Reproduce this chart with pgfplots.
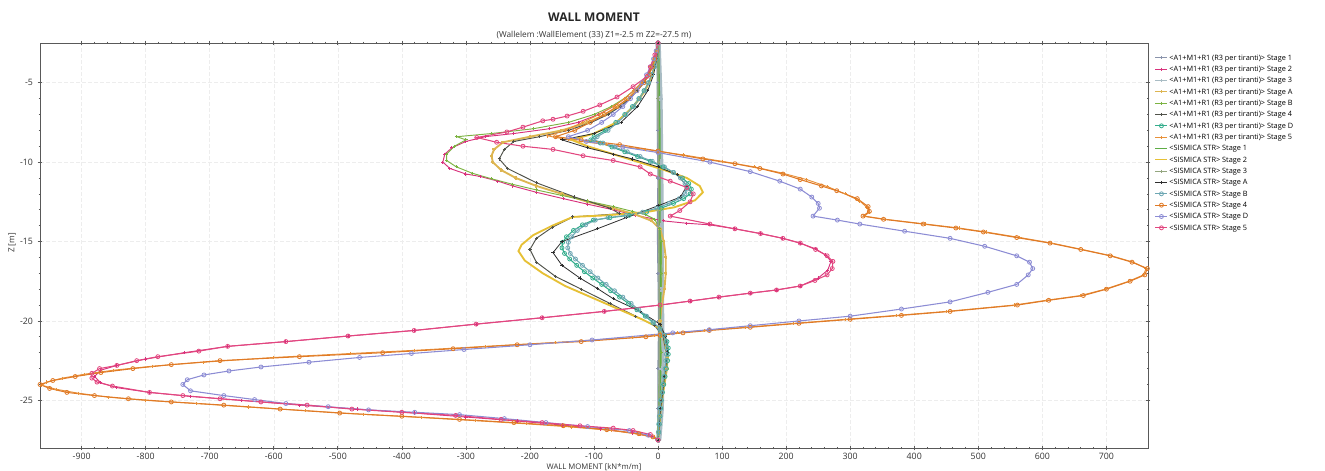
\documentclass[border=0pt]{standalone}
\usepackage{fontspec}
\setmainfont{Open Sans}
\usepackage{pgfplots}
\pgfplotsset{compat=1.18}

\definecolor{cA}{HTML}{8A93AB}
\definecolor{cB}{HTML}{D8327C}
\definecolor{cC}{HTML}{A9BCC4}
\definecolor{cD}{HTML}{DDB551}
\definecolor{cE}{HTML}{7CB342}
\definecolor{cF}{HTML}{50524A}
\definecolor{cG}{HTML}{33AD8C}
\definecolor{cH}{HTML}{E8913A}
\definecolor{cI}{HTML}{5EAD46}
\definecolor{cJ}{HTML}{E6C035}
\definecolor{cK}{HTML}{94A67F}
\definecolor{cL}{HTML}{2E2E2E}
\definecolor{cM}{HTML}{6EA7B3}
\definecolor{cN}{HTML}{E07A26}
\definecolor{cO}{HTML}{8C8CD4}
\definecolor{cP}{HTML}{E2467F}

\pgfplotsset{
  pl/.style={line width=0.7pt, mark=+, mark size=1.2pt, mark options={solid}},
  ci/.style={line width=0.8pt, mark=o, mark size=1.5pt, mark options={solid, fill=white, line width=0.6pt}},
  nz/.style={line width=1.4pt, mark=none},
}

\begin{document}
\begin{tikzpicture}
\useasboundingbox (0,0) rectangle (993.75pt,353.25pt);
\begin{axis}[
  at={(30pt,17.25pt)}, anchor=south west,
  scale only axis, width=831pt, height=303.75pt,
  xmin=-965, xmax=765, ymin=-28, ymax=-2.5,
  xtick={-900,-800,...,700}, ytick={-25,-20,...,-5},
  minor x tick num=4, minor y tick num=4,
  tick align=center, major tick length=3.5pt, minor tick length=2pt,
  axis line style={draw=black!65, line width=0.6pt},
  every tick/.style={black!65, line width=0.5pt},
  tick label style={font=\fontsize{6.6}{7}\selectfont, text=black!80},
  xticklabel style={yshift=1.2pt},
  /pgf/number format/assume math mode=true,
  /pgf/number format/.cd, 1000 sep={}, /pgfplots/.cd,
  grid=major, major grid style={black!7, dash pattern=on 3pt off 1.5pt, line width=0.4pt},
  legend style={at={(rel axis cs:1.006,0.978)}, anchor=north west, draw=none, fill=none,
    font=\fontsize{5.5}{6}\selectfont, row sep=0pt, inner sep=0pt,
    nodes={inner sep=1pt, text height=5.1pt, text depth=1.4pt}},
  legend cell align=left,
  legend image code/.code={\draw[line width=0.8pt, mark repeat=2, mark phase=2] plot coordinates {(0pt,0pt) (4.5pt,0pt) (9pt,0pt)};},
]
% ---- <A1+M1+R1 (R3 per tiranti)> ----
\addplot[pl, cA, line width=1pt] coordinates {(0,-2.5) (-1,-5) (-1,-8) (0,-11) (-1,-14) (0,-17) (1,-20) (0,-23) (0,-25.5) (0,-27.5)};
\addlegendentry{<A1+M1+R1 (R3 per tiranti)> Stage 1}
\addplot[pl, cB] coordinates {(0,-2.5) (-2,-3) (-5,-3.5) (-10,-4) (-17,-4.5) (-26,-5) (-38,-5.5) (-52,-6) (-70,-6.5) (-93,-7) (-125,-7.5) (-170,-7.9) (-225,-8.2) (-270,-8.4) (-300,-8.7) (-322,-9.1) (-333,-9.5) (-336,-10) (-325,-10.4) (-300,-10.75) (-278,-10.9) (-250,-11.2) (-227,-11.5) (-190,-11.9) (-148,-12.3) (-110,-12.65) (-70,-13.0) (-35,-13.35) (8,-13.7) (45,-13.85) (81,-13.95) (120,-14.2) (160,-14.5) (195,-14.8) (222,-15.1) (245,-15.45) (262,-15.85) (270,-16.25) (265,-16.8) (250,-17.3) (222,-17.8) (185,-18.05) (144,-18.25) (95,-18.5) (50,-18.75) (3,-19.0) (-84,-19.4) (-181,-19.8) (-284,-20.2) (-381,-20.6) (-484,-20.95) (-581,-21.3) (-672,-21.6) (-740,-22.0) (-800,-22.4) (-845,-22.8) (-870,-23.1) (-880,-23.5) (-870,-23.9) (-845,-24.2) (-794,-24.5) (-730,-24.75) (-650,-25.0) (-560,-25.3) (-470,-25.55) (-380,-25.8) (-300,-26.05) (-220,-26.3) (-150,-26.55) (-90,-26.8) (-40,-27.05) (-10,-27.3) (0,-27.5)};
\addlegendentry{<A1+M1+R1 (R3 per tiranti)> Stage 2}
\addplot[pl, cC, line width=4pt, mark size=0.8pt] coordinates {(0,-2.5) (3,-6) (4,-10) (5,-14) (5,-18) (6,-21) (6,-23) (5,-25.5) (1,-27.5)};
\addlegendentry{<A1+M1+R1 (R3 per tiranti)> Stage 3}
\addplot[pl, cD, line width=1.4pt] coordinates {(0,-2.5) (-2,-3) (-5,-3.5) (-10,-4) (-16,-4.5) (-24,-5) (-34,-5.5) (-46,-6) (-62,-6.5) (-82,-7) (-110,-7.5) (-150,-8) (-200,-8.4) (-242,-8.75) (-256,-9.2) (-260,-9.6) (-258,-10) (-245,-10.5) (-222,-11.0) (-190,-11.5) (-150,-12.0) (-110,-12.5) (-70,-12.9) (-35,-13.3) (-10,-13.7) (3,-14.2) (9,-15) (12,-16) (12,-17) (10,-18) (6,-19) (3,-20) (7,-21) (12,-21.7) (15,-22.3) (14,-23) (10,-24) (6,-25) (3,-26) (0,-27.5)};
\addlegendentry{<A1+M1+R1 (R3 per tiranti)> Stage A}
\addplot[pl, cE] coordinates {(0,-2.5) (-2,-3) (-5,-3.5) (-10,-4) (-17,-4.5) (-26,-5) (-38,-5.5) (-53,-6) (-73,-6.5) (-100,-7) (-140,-7.5) (-195,-7.9) (-260,-8.2) (-314,-8.4) (-300,-8.6) (-318,-9.0) (-330,-9.5) (-330,-9.9) (-315,-10.3) (-290,-10.7) (-260,-11.05) (-227,-11.4) (-190,-11.75) (-150,-12.1) (-110,-12.45) (-70,-12.8) (-40,-13.1) (-20,-13.3) (-5,-13.6) (2,-14.2) (5,-15) (6,-17) (4,-19) (3,-21) (5,-22) (4,-24) (2,-26) (0,-27.5)};
\addlegendentry{<A1+M1+R1 (R3 per tiranti)> Stage B}
\addplot[pl, cF] coordinates {(0,-2.5) (-2,-3) (-5,-3.5) (-9,-4) (-15,-4.5) (-22,-5) (-32,-5.5) (-44,-6) (-59,-6.5) (-78,-7) (-104,-7.5) (-140,-8) (-185,-8.4) (-225,-8.7) (-240,-9.2) (-248,-9.8) (-235,-10.4) (-190,-11.3) (-130,-12.2) (-75,-12.9) (-60,-13.25) (-133,-13.45) (-165,-14.1) (-190,-14.8) (-200,-15.5) (-190,-16.3) (-160,-17.2) (-120,-18) (-75,-18.9) (-35,-19.7) (-5,-20.3) (8,-21) (13,-22) (10,-23.5) (5,-25) (0,-27.5)};
\addlegendentry{<A1+M1+R1 (R3 per tiranti)> Stage 4}
\addplot[ci, cG] coordinates {(0,-2.5) (-1,-3) (-3,-3.5) (-6,-4) (-10,-4.5) (-15,-5) (-22,-5.5) (-30,-6) (-40,-6.5) (-52,-7) (-66,-7.5) (-82,-8) (-100,-8.4) (-105,-8.6) (-90,-8.8) (-72,-9.05) (-52,-9.35) (-32,-9.65) (-12,-9.95) (8,-10.3) (24,-10.65) (38,-11.0) (48,-11.35) (52,-11.7) (50,-12.0) (40,-12.3) (24,-12.6) (5,-12.9) (-18,-13.15) (-45,-13.35) (-75,-13.5) (-101,-13.65) (-118,-13.95) (-132,-14.3) (-143,-14.7) (-149,-15.05) (-150,-15.4) (-146,-15.75) (-138,-16.1) (-127,-16.5) (-115,-16.9) (-102,-17.3) (-88,-17.7) (-74,-18.1) (-60,-18.5) (-46,-18.9) (-33,-19.3) (-20,-19.7) (-8,-20.1) (3,-20.5) (10,-20.9) (14,-21.3) (16,-21.7) (16,-22.1) (15,-22.5) (13,-23) (11,-23.5) (9,-24) (7,-24.5) (5,-25) (4,-25.5) (3,-26) (2,-26.5) (1,-27) (0,-27.5)};
\addlegendentry{<A1+M1+R1 (R3 per tiranti)> Stage D}
\addplot[pl, cH] coordinates {(0,-2.5) (-2,-3) (-6,-3.5) (-11,-4) (-17,-4.5) (-26,-5) (-38,-5.5) (-52,-6) (-70,-6.5) (-92,-7) (-118,-7.5) (-145,-8) (-172,-8.35) (-140,-8.6) (-80,-8.9) (-20,-9.2) (40,-9.55) (100,-9.95) (150,-10.3) (195,-10.7) (232,-11.1) (265,-11.55) (292,-12.0) (315,-12.45) (326,-12.85) (330,-13.15) (322,-13.4) (355,-13.6) (418,-13.9) (470,-14.15) (512,-14.4) (565,-14.75) (615,-15.1) (662,-15.5) (708,-15.9) (742,-16.3) (762,-16.7) (758,-17.1) (735,-17.5) (698,-18) (660,-18.4) (606,-18.7) (556,-19.0) (450,-19.4) (372,-19.65) (292,-19.9) (212,-20.15) (136,-20.4) (72,-20.6) (30,-20.75) (-5,-20.9) (-40,-21.05) (-160,-21.35) (-270,-21.6) (-380,-21.85) (-480,-22.05) (-600,-22.3) (-710,-22.6) (-790,-22.85) (-850,-23.1) (-895,-23.35) (-930,-23.6) (-955,-23.85) (-962,-24.05) (-940,-24.3) (-905,-24.55) (-858,-24.8) (-800,-25.0) (-720,-25.2) (-640,-25.42) (-550,-25.65) (-460,-25.88) (-370,-26.08) (-285,-26.28) (-205,-26.48) (-135,-26.68) (-72,-26.9) (-28,-27.15) (-6,-27.35) (0,-27.5)};
\addlegendentry{<A1+M1+R1 (R3 per tiranti)> Stage 5}
% ---- <SISMICA STR> ----
\addplot[nz, cI, line width=1.8pt] coordinates {(0,-2.5) (1,-5) (2,-8) (2,-11) (2,-14) (3,-17) (3,-20) (3,-23) (2,-25.5) (0,-27.5)};
\addlegendentry{<SISMICA STR> Stage 1}
\addplot[nz, cJ] coordinates {(0,-2.5) (-3,-3.5) (-9,-4.5) (-20,-5.5) (-38,-6.5) (-65,-7.5) (-100,-8.2) (-135,-8.6) (-110,-9.0) (-70,-9.5) (-30,-10.0) (10,-10.5) (45,-11.0) (65,-11.5) (70,-11.9) (58,-12.4) (25,-12.85) (-20,-13.15) (-80,-13.35) (-133,-13.45) (-165,-14.0) (-195,-14.6) (-213,-15.2) (-218,-15.6) (-208,-16.2) (-180,-17.0) (-145,-17.8) (-105,-18.5) (-65,-19.2) (-25,-19.9) (0,-20.4) (10,-21) (14,-21.8) (13,-22.6) (10,-23.5) (6,-24.5) (3,-25.8) (0,-27.5)};
\addlegendentry{<SISMICA STR> Stage 2}
\addplot[pl, cK, line width=1pt] coordinates {(0,-2.5) (0,-6) (1,-10) (1,-14) (2,-18) (2,-21) (2,-24) (1,-26) (0,-27.5)};
\addlegendentry{<SISMICA STR> Stage 3}
\addplot[pl, cL, line width=0.6pt] coordinates {(0,-2.5) (-2,-3.5) (-7,-4.5) (-16,-5.5) (-32,-6.5) (-58,-7.5) (-100,-8.2) (-150,-8.6) (-110,-9.1) (-70,-9.5) (-40,-9.8) (0,-10.3) (30,-10.8) (45,-11.5) (35,-12.2) (0,-12.75) (-50,-13.5) (-95,-14.2) (-150,-15.0) (-164,-15.7) (-150,-16.5) (-122,-17.3) (-95,-17.95) (-70,-18.6) (-28,-19.4) (3,-20.2) (12,-21) (15,-22) (10,-23.5) (4,-25.5) (0,-27.5)};
\addlegendentry{<SISMICA STR> Stage A}
\addplot[ci, cM] coordinates {(0,-2.5) (-1,-3) (-3,-3.5) (-6,-4) (-10,-4.5) (-15,-5) (-21,-5.5) (-29,-6) (-38,-6.5) (-50,-7) (-63,-7.5) (-78,-8) (-95,-8.4) (-100,-8.6) (-86,-8.8) (-68,-9.05) (-48,-9.35) (-28,-9.65) (-9,-9.95) (10,-10.3) (24,-10.65) (35,-11.0) (42,-11.35) (45,-11.7) (42,-12.0) (33,-12.3) (17,-12.6) (-2,-12.9) (-24,-13.15) (-50,-13.35) (-78,-13.5) (-98,-13.65) (-113,-13.95) (-126,-14.3) (-135,-14.7) (-140,-15.05) (-141,-15.4) (-137,-15.75) (-129,-16.1) (-118,-16.5) (-106,-16.9) (-94,-17.3) (-81,-17.7) (-68,-18.1) (-55,-18.5) (-42,-18.9) (-30,-19.3) (-18,-19.7) (-7,-20.1) (3,-20.5) (9,-20.9) (12,-21.3) (13,-21.7) (13,-22.1) (12,-22.5) (11,-23) (9,-23.5) (7,-24) (6,-24.5) (4,-25) (3,-25.5) (2,-26) (1,-26.5) (0.5,-27) (0,-27.5)};
\addlegendentry{<SISMICA STR> Stage B}
\addplot[ci, cN] coordinates {(0,-2.5) (-2,-3) (-5,-3.5) (-9,-4) (-14,-4.5) (-22,-5) (-33,-5.5) (-47,-6) (-64,-6.5) (-84,-7) (-106,-7.5) (-130,-8) (-160,-8.4) (-120,-8.6) (-60,-8.9) (0,-9.3) (70,-9.8) (120,-10.1) (159,-10.4) (195,-10.75) (222,-11.1) (255,-11.5) (279,-11.8) (311,-12.3) (328,-12.8) (330,-13.1) (320,-13.4) (352,-13.6) (414,-13.9) (465,-14.15) (508,-14.4) (560,-14.75) (612,-15.1) (660,-15.5) (706,-15.9) (740,-16.3) (764,-16.7) (760,-17.1) (737,-17.5) (700,-18) (664,-18.4) (610,-18.7) (561,-19.0) (456,-19.4) (380,-19.65) (300,-19.9) (220,-20.15) (144,-20.4) (80,-20.6) (39,-20.75) (3,-20.9) (-19,-21.0) (-120,-21.3) (-220,-21.5) (-320,-21.75) (-430,-22.0) (-560,-22.25) (-684,-22.5) (-760,-22.75) (-820,-23) (-870,-23.25) (-910,-23.5) (-945,-23.75) (-965,-24) (-950,-24.25) (-923,-24.5) (-880,-24.7) (-827,-24.9) (-760,-25.1) (-678,-25.3) (-590,-25.55) (-497,-25.8) (-400,-26.0) (-310,-26.2) (-225,-26.4) (-148,-26.6) (-80,-26.85) (-30,-27.1) (-8,-27.3) (0,-27.5)};
\addlegendentry{<SISMICA STR> Stage 4}
\addplot[ci, cO] coordinates {(0,-2.5) (-3,-3) (-7,-3.5) (-12,-4) (-18,-4.5) (-25,-5) (-33,-5.5) (-43,-6) (-55,-6.5) (-70,-7) (-88,-7.5) (-110,-8) (-140,-8.4) (-112,-8.7) (-55,-9.05) (0,-9.4) (81,-10) (144,-10.6) (190,-11.2) (222,-11.7) (240,-12.2) (250,-12.6) (252,-12.9) (242,-13.4) (280,-13.65) (315,-13.9) (385,-14.35) (456,-14.8) (510,-15.3) (560,-15.9) (580,-16.3) (585,-16.7) (578,-17.1) (560,-17.7) (515,-18.2) (456,-18.8) (380,-19.25) (300,-19.7) (220,-20.0) (144,-20.3) (80,-20.55) (23,-20.75) (-103,-21.2) (-200,-21.5) (-303,-21.8) (-385,-22.05) (-466,-22.3) (-545,-22.6) (-620,-22.9) (-670,-23.15) (-709,-23.4) (-735,-23.7) (-742,-24.0) (-730,-24.4) (-678,-24.7) (-630,-24.95) (-581,-25.2) (-515,-25.4) (-452,-25.6) (-380,-25.75) (-310,-25.9) (-240,-26.15) (-175,-26.4) (-110,-26.65) (-45,-26.9) (-15,-27.2) (0,-27.5)};
\addlegendentry{<SISMICA STR> Stage D}
\addplot[ci, cP] coordinates {(0,-2.5) (-5,-3.25) (-12,-4.0) (-17,-4.6) (-39,-5.25) (-64,-5.9) (-91,-6.4) (-117,-6.8) (-142,-7.1) (-164,-7.3) (-180,-7.4) (-211,-7.8) (-236,-8.1) (-283,-8.45) (-252,-8.75) (-211,-9.0) (-164,-9.2) (-117,-9.6) (-70,-9.9) (-28,-10.3) (-12,-10.75) (19,-11.2) (45,-11.6) (55,-12.0) (50,-12.5) (34,-13.05) (19,-13.4) (81,-13.9) (120,-14.2) (160,-14.5) (195,-14.8) (222,-15.1) (246,-15.5) (264,-15.9) (273,-16.25) (272,-16.7) (264,-17.1) (245,-17.45) (222,-17.8) (185,-18.05) (144,-18.25) (95,-18.5) (50,-18.75) (3,-19.0) (-84,-19.4) (-181,-19.8) (-284,-20.2) (-381,-20.6) (-484,-20.95) (-581,-21.3) (-672,-21.6) (-717,-21.9) (-781,-22.25) (-814,-22.5) (-845,-22.8) (-872,-23.0) (-884,-23.3) (-884,-23.6) (-876,-23.85) (-852,-24.1) (-794,-24.5) (-742,-24.7) (-684,-24.9) (-620,-25.1) (-548,-25.3) (-478,-25.55) (-400,-25.75) (-316,-25.95) (-245,-26.2) (-181,-26.4) (-122,-26.6) (-70,-26.75) (-39,-26.9) (-12,-27.15) (0,-27.5)};
\addlegendentry{<SISMICA STR> Stage 5}
\end{axis}
\node[font=\bfseries\fontsize{9}{10}\selectfont, text=black!85] at (445.5pt,340.5pt) {WALL MOMENT};
\node[font=\fontsize{6.2}{7}\selectfont, text=black!80] at (445.5pt,327pt) {(Wallelem :WallElement (33) Z1=-2.5 m Z2=-27.5 m)};
\node[font=\fontsize{5.8}{6}\selectfont, text=black!80, inner sep=0.5pt] at (445.5pt,3pt) {WALL MOMENT [kN*m/m]};
\node[font=\fontsize{6.2}{7}\selectfont, text=black!80, rotate=90] at (9pt,171pt) {Z [m]};
\end{tikzpicture}
\end{document}
